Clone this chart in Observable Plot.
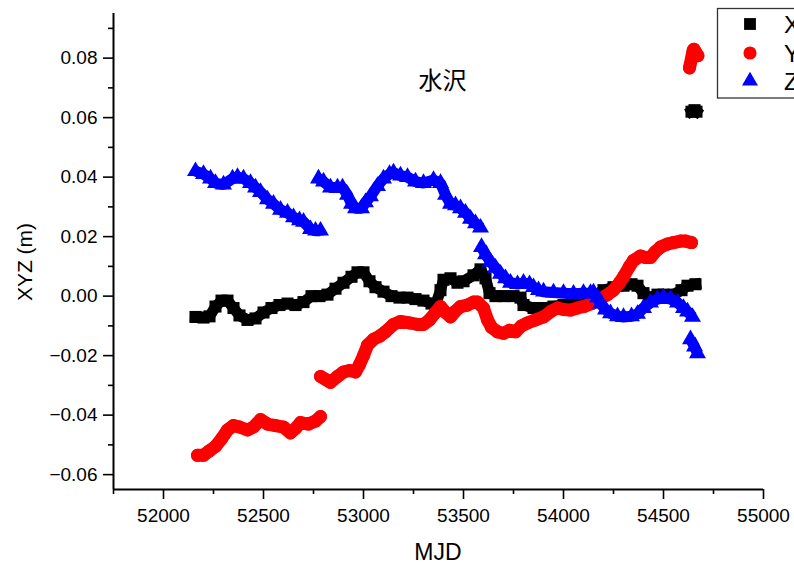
<!DOCTYPE html>
<html>
<head>
<meta charset="utf-8">
<script src="https://cdn.jsdelivr.net/npm/d3@7"></script>
<script src="https://cdn.jsdelivr.net/npm/@observablehq/plot@0.6"></script>
<style>
  html, body { margin: 0; padding: 0; background: #fff; }
  #wrap { position: relative; width: 794px; height: 567px; overflow: hidden; }
  #wrap svg { position: absolute; left: 0; top: 0; }
</style>
</head>
<body>
<div id="wrap"></div>
<script>
// ---- data ----
const seriesNames = ["X", "Y", "Z"];
const seriesColors = ["#000000", "#ff0000", "#0000ff"];
const xTicks = [52000, 52500, 53000, 53500, 54000, 54500, 55000];
const yTicks = [-0.06, -0.04, -0.02, 0.00, 0.02, 0.04, 0.06, 0.08];
const titleText = "水沢";
const xLabel = "MJD";
const yLabel = "XYZ (m)";

// X component (null = gap)
const mjdX = [52160,52200,52230,52260,52290,52320,52350,52380,52420,52460,52500,52540,52580,52620,52660,52700,52740,52780,52820,52860,52900,52940,52970,53000,53030,53060,53100,53140,53180,53220,53260,53300,53340,53360,53385,53400,53435,53470,53500,53550,53585,53610,53630,53660,53700,53750,53785,53800,53850,53900,53950,54000,54050,54100,54150,54200,54250,54300,54340,54370,54400,54430,54470,54500,54550,54590,54620,54660,null,54640,54655,54665];
const valX = [-0.0070,-0.0072,-0.0068,-0.0035,-0.0015,-0.0015,-0.0040,-0.0065,-0.0080,-0.0075,-0.0055,-0.0040,-0.0030,-0.0025,-0.0030,-0.0020,0.0000,0.0000,0.0005,0.0025,0.0045,0.0065,0.0080,0.0080,0.0050,0.0030,0.0015,0.0000,-0.0005,-0.0005,-0.0010,-0.0015,-0.0025,-0.0030,0.0020,0.0055,0.0060,0.0045,0.0050,0.0070,0.0090,0.0060,0.0010,0.0000,0.0000,0.0000,-0.0005,-0.0030,-0.0040,-0.0040,-0.0035,-0.0030,-0.0025,-0.0010,0.0000,0.0020,0.0030,0.0035,0.0040,0.0035,0.0010,-0.0005,0.0005,0.0005,0.0005,0.0020,0.0035,0.0040,null,0.0620,0.0625,0.0620];

// Y component
const mjdY = [52170,52200,52230,52260,52290,52320,52350,52380,52420,52450,52485,52520,52560,52600,52635,52660,52685,52725,52760,52785,null,52785,52810,52835,52870,52900,52930,52960,52980,53000,53020,53050,53080,53110,53150,53185,53230,53270,53300,53330,53360,53385,53410,53435,53460,53485,53520,53550,53570,53600,53620,53640,53670,53700,53730,53760,53790,53820,53860,53900,53940,53970,54000,54035,54070,54100,54140,54185,54220,54250,54280,54300,54330,54350,54385,54410,54435,54460,54485,54520,54550,54585,54610,54640,null,54630,54648,54652,54672];
const valY = [-0.0535,-0.0535,-0.0520,-0.0505,-0.0480,-0.0450,-0.0435,-0.0440,-0.0450,-0.0440,-0.0415,-0.0430,-0.0435,-0.0440,-0.0460,-0.0445,-0.0425,-0.0430,-0.0420,-0.0405,null,-0.0270,-0.0280,-0.0290,-0.0270,-0.0255,-0.0250,-0.0255,-0.0230,-0.0200,-0.0165,-0.0145,-0.0135,-0.0120,-0.0095,-0.0085,-0.0090,-0.0095,-0.0095,-0.0080,-0.0055,-0.0035,-0.0055,-0.0070,-0.0050,-0.0035,-0.0030,-0.0020,-0.0020,-0.0040,-0.0080,-0.0105,-0.0120,-0.0125,-0.0115,-0.0120,-0.0100,-0.0090,-0.0080,-0.0070,-0.0050,-0.0040,-0.0045,-0.0047,-0.0040,-0.0035,-0.0025,-0.0010,0.0005,0.0020,0.0045,0.0065,0.0100,0.0120,0.0135,0.0130,0.0130,0.0150,0.0165,0.0175,0.0180,0.0185,0.0185,0.0180,null,0.0767,0.0825,0.0830,0.0808];

// Z component
const mjdZ = [52160,52200,52235,52260,52300,52345,52370,52400,52435,52460,52485,52520,52550,52585,52620,52650,52680,52700,52735,52760,52785,null,52775,52800,52835,52870,52895,52920,52940,52960,52990,53010,53035,53070,53100,53130,53150,53185,53220,53260,53300,53350,53385,53410,53435,53460,53485,53510,53535,53560,53585,null,53590,53610,53635,53660,53685,53710,53735,53770,53800,53830,53850,53875,53900,53950,54000,54050,54100,54135,54150,54170,54185,54210,54235,54270,54300,54340,54370,54400,54435,54470,54500,54535,54570,54600,54620,54645,null,54635,54655,54670];
const valZ = [0.0420,0.0410,0.0395,0.0380,0.0375,0.0395,0.0400,0.0395,0.0380,0.0365,0.0350,0.0325,0.0310,0.0290,0.0280,0.0265,0.0255,0.0250,0.0225,0.0220,0.0220,null,0.0395,0.0385,0.0365,0.0365,0.0365,0.0340,0.0310,0.0295,0.0295,0.0315,0.0335,0.0370,0.0395,0.0410,0.0415,0.0405,0.0400,0.0385,0.0380,0.0390,0.0380,0.0340,0.0310,0.0305,0.0295,0.0280,0.0260,0.0245,0.0230,null,0.0165,0.0140,0.0115,0.0095,0.0075,0.0060,0.0045,0.0040,0.0045,0.0040,0.0030,0.0020,0.0015,0.0012,0.0010,0.0008,0.0010,0.0010,0.0012,-0.0005,-0.0025,-0.0045,-0.0058,-0.0068,-0.0070,-0.0068,-0.0060,-0.0040,-0.0022,-0.0010,-0.0005,-0.0010,-0.0022,-0.0040,-0.0052,-0.0070,null,-0.0145,-0.0170,-0.0192];

// ---- build ----
const toRows = (xs, ys) => xs.map((m, i) => ({mjd: m, v: ys[i]}));
const rowsX = toRows(mjdX, valX);
const rowsY = toRows(mjdY, valY);
const rowsZ = toRows(mjdZ, valZ);
const xDomain = [51750, 55000];
const yDomain = [-0.065, 0.095];
const xMinor = d3.range(51750, 55001, 250).filter(v => !xTicks.includes(v));
const yMinor = d3.range(-6, 10).map(v => v / 100 + 0.01).filter(v => v < 0.095 && v > -0.065 && !yTicks.some(t => Math.abs(t - v) < 1e-9));

const font = "'Liberation Sans', Arial, sans-serif";

const chart = Plot.plot({
  width: 794,
  height: 567,
  marginLeft: 113,
  marginRight: 31,
  marginTop: 13,
  marginBottom: 78,
  style: {fontFamily: font, background: "white", overflow: "visible"},
  x: {domain: xDomain},
  y: {domain: yDomain},
  marks: [
    // series X
    Plot.line(rowsX, {x: "mjd", y: "v", stroke: seriesColors[0], strokeWidth: 11, strokeLinejoin: "miter", strokeLinecap: "square"}),
    Plot.dot(rowsX, {x: "mjd", y: "v", symbol: "square", r: 6.8, fill: seriesColors[0]}),
    // series Y
    Plot.line(rowsY, {x: "mjd", y: "v", stroke: seriesColors[1], strokeWidth: 13, strokeLinejoin: "round", strokeLinecap: "round"}),
    Plot.dot(rowsY, {x: "mjd", y: "v", symbol: "circle", r: 6.5, fill: seriesColors[1]}),
    // series Z
    Plot.line(rowsZ, {x: "mjd", y: "v", stroke: seriesColors[2], strokeWidth: 11, strokeLinejoin: "miter", strokeLinecap: "butt"}),
    Plot.dot(rowsZ, {x: "mjd", y: "v", symbol: "triangle", r: 6.3, fill: seriesColors[2]}),
    // axes
    Plot.axisX(xTicks, {tickSize: 10, tickPadding: 9, fontSize: 19, strokeWidth: 1.6, tickFormat: d => String(d), label: null}),
    Plot.axisX(xMinor, {tickSize: 5, strokeWidth: 1.6, tickFormat: () => "", label: null}),
    Plot.axisY(yTicks, {tickSize: 10, tickPadding: 6, fontSize: 19, strokeWidth: 1.6, tickFormat: d => (d < 0 ? "\u2212" : "") + Math.abs(d).toFixed(2), label: null}),
    Plot.axisY(yMinor, {tickSize: 5, strokeWidth: 1.6, tickFormat: () => "", label: null}),
    Plot.ruleX([xDomain[0]], {stroke: "black", strokeWidth: 2}),
    Plot.ruleY([yDomain[0]], {stroke: "black", strokeWidth: 2}),
    // title
    Plot.text([titleText], {frameAnchor: "top", dx: 4, dy: 58, fontSize: 24, fontFamily: "'Noto Sans CJK JP', sans-serif", fill: "black"})
  ]
});
document.getElementById("wrap").appendChild(chart);

// ---- overlay: axis labels and legend ----
const ov = d3.select("#wrap").append("svg")
  .attr("width", 794).attr("height", 567)
  .style("pointer-events", "none")
  .style("font-family", font);

ov.append("text").attr("x", 438).attr("y", 560)
  .attr("text-anchor", "middle").attr("font-size", 23).text(xLabel);
ov.append("text").attr("transform", "translate(32,262) rotate(-90)")
  .attr("text-anchor", "middle").attr("font-size", 21).text(yLabel);

const lg = ov.append("g");
lg.append("rect").attr("x", 717.5).attr("y", 8.5).attr("width", 120).attr("height", 89.5)
  .attr("fill", "white").attr("stroke", "#333").attr("stroke-width", 1.3);
const legSyms = [d3.symbolSquare, d3.symbolCircle, d3.symbolTriangle];
const legSizes = [140, 135, 110];
const legY = [24, 53, 81];
seriesNames.forEach((name, i) => {
  lg.append("path")
    .attr("d", d3.symbol(legSyms[i], legSizes[i])())
    .attr("transform", `translate(750,${legY[i]})`)
    .attr("fill", seriesColors[i]);
  lg.append("text").attr("x", 784).attr("y", legY[i] + 8.5)
    .attr("font-size", 24).text(name);
});
</script>
</body>
</html>
